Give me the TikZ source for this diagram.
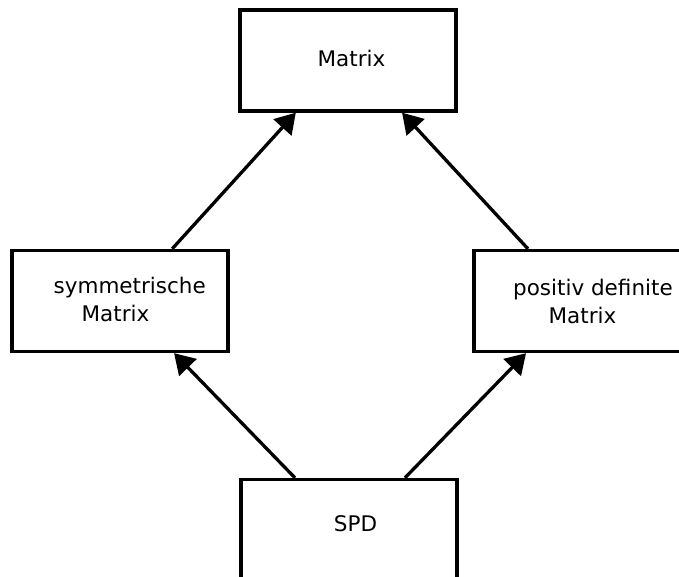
\documentclass[tikz,border=0pt]{standalone}
\usepackage{fontspec}
\setmainfont{DejaVu Sans}
\usepackage{tikz}
\usetikzlibrary{arrows.meta}

\begin{document}
\begin{tikzpicture}[x=1pt, y=-1pt, line width=3.3pt, >={Triangle[length=20pt, width=24pt]}]
\useasboundingbox (0,0) rectangle (679,577);
\clip (0,0) rectangle (679,577);
\begin{scope}[every node/.style={rectangle, draw, line width=3.4pt, inner sep=0pt, minimum width=216pt, minimum height=101pt}]
  \node (m) at (348,60.5) {};
  \node (s) at (120,301) {};
  \node (p) at (582,301) {};
  \node (spd) at (349,530) {};
\end{scope}
\begin{scope}[every node/.style={anchor=base west, inner sep=0pt, font=\fontsize{21.5}{26}\selectfont}]
  \node (mt) at (316,66.7) {Matrix};
  \node (st) at (52,293.3) {symmetrische};
  \node (st2) at (80,321.7) {Matrix};
  \node (pt) at (511.5,295) {positiv definite};
  \node (pt2) at (547,323.3) {Matrix};
  \node (spdt) at (332.3,531.7) {SPD};
\end{scope}
\draw[->] (s.45)--(m.-135);
\draw[->] (p.136)--(m.-44);
\draw[->] (spd.136)--(s.-44);
\draw[->] (spd.43)--(p.-137);
\end{tikzpicture}
\end{document}
